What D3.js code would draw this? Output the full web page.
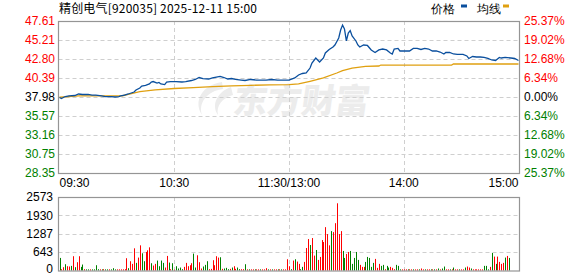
<!DOCTYPE html>
<html>
<head>
<meta charset="utf-8">
<script src="https://cdn.jsdelivr.net/npm/d3@7"></script>
<style>
  body { margin: 0; background: #fff; }
  svg text { font-family: "Liberation Sans", Arial, sans-serif; font-size: 12px; }
</style>
</head>
<body>
<svg id="chart" width="578" height="276"></svg>
<script>
// --- Chart data ---
const titleText = "精创电气[920035] 2025-12-11 15:00";
const preClose = 37.98;
const priceTicks = [47.61, 45.21, 42.80, 40.39, 37.98, 35.57, 33.16, 30.75, 28.35];
const pctTicks = ["25.37%", "19.02%", "12.68%", "6.34%", "0.00%", "6.34%", "12.68%", "19.02%", "25.37%"];
const volTicks = [2573, 1930, 1287, 643, 0];
const timeLabels = ["09:30", "10:30", "11:30/13:00", "14:00", "15:00"];
const timeLabelMin = [0, 60, 120, 180, 240];

// price trace: minute index -> price
const priceMin = [0,1,3,5,8,10,12,15,17,19,22,24,27,29,31,32,34,36,39,40,42,43,45,47,48,49,51,52,53,55,56,58,61,64,66,69,71,73,75,78,80,82,84,86,88,90,92,95,97,100,103,105,108,111,114,117,120,123,125,127,129,131,132,134,136,138,139,141,143,144,146,147,148,149,150,151,152,153,155,156,157,159,161,163,165,167,169,171,173,174,175,177,178,180,183,185,187,189,191,193,195,197,199,201,202,204,206,208,211,213,214,216,218,220,222,224,226,228,230,231,233,236,238,240];
const priceVal = [37.92,37.79,38.04,38.11,38.17,38.36,38.30,38.30,38.23,38.23,38.11,38.04,38.04,37.98,38.04,38.11,38.23,38.36,38.61,38.87,39.12,39.37,39.44,39.63,39.88,39.94,39.75,39.82,39.63,39.56,39.88,39.94,39.94,39.88,39.94,40.07,40.20,40.45,40.32,40.26,40.39,40.51,40.58,40.45,40.26,40.32,40.20,40.13,40.07,40.20,40.13,40.13,40.13,40.20,40.13,40.13,40.13,40.39,40.77,40.96,41.02,41.65,42.29,42.92,42.41,42.92,43.56,44.00,44.32,44.57,45.46,46.47,47.10,46.60,45.10,46.09,46.40,45.71,45.08,44.57,44.32,44.57,44.51,43.94,43.62,43.94,44.06,43.94,43.56,43.43,44.06,44.13,43.81,43.81,43.81,44.13,44.13,44.00,44.13,44.06,43.81,43.81,43.68,43.43,43.62,43.62,43.43,43.37,43.37,43.18,42.86,43.11,43.05,43.05,42.99,42.86,42.67,42.61,42.99,42.92,42.99,42.92,42.86,42.61];

// average line trace
const avgMin = [0,10,33,36,42,50,60,70,80,90,100,110,120,125,131,138,145,148,153,160,167,168,205,206,240];
const avgVal = [37.95,38.12,38.14,38.30,38.65,38.87,39.06,39.18,39.30,39.40,39.46,39.52,39.56,39.63,39.97,40.39,41.02,41.31,41.65,41.85,41.91,42.03,42.03,42.16,42.16];

// volume per minute (241 bars) and colour per bar (r = up, g = down)
const volumes = [
  440,46,116,220,150,140,162,500,116,290,
  500,127,209,46,40,40,40,40,40,185,
  46,40,40,46,40,40,40,40,81,40,
  40,40,40,40,46,430,81,325,232,777,
  267,452,881,603,325,649,707,811,255,174,
  232,348,150,348,267,104,510,278,46,255,
  30,150,70,104,46,127,267,150,185,255,
  591,104,533,290,70,140,197,325,46,58,
  360,185,500,452,464,58,70,93,46,58,
  104,150,58,104,46,46,46,220,40,40,
  40,40,40,40,40,40,40,40,81,40,
  40,40,40,40,40,40,40,40,40,394,
  150,46,348,394,313,232,46,127,301,788,
  1101,892,1136,521,718,371,475,1066,997,1518,
  1275,881,1379,1344,1657,2353,1275,1379,684,440,
  580,649,684,232,440,649,371,197,127,127,
  301,475,440,127,267,406,93,232,162,197,
  46,162,104,127,93,46,197,162,40,40,
  40,40,40,40,40,40,40,40,40,70,
  40,40,40,40,40,40,40,40,70,40,
  70,139,40,40,40,40,104,40,40,40,
  40,40,104,139,104,70,40,40,40,40,
  40,40,162,162,40,127,614,487,232,487,
  301,232,267,452,510,440,0,0,0,0,
  510
];
const volColors =
  "grrgrrgrgr" + "rggrggrggg" + "grgrggrggg" + "rrrrrrgrrr" +
  "grrggrrrgr" + "rggggrrgrg" + "rggggrrrrr" + "ggrrrgggrr" +
  "rrrrgrgggr" + "grrggrrgrg" + "rrgrrgrrrg" + "rgrrgrgrrr" +
  "rgrgrrggrr" + "rgrrgrrrrr" + "rrgrrrrrgg" + "rrgggggrrr" +
  "gggggrrrgg" + "rggrrrgggr" + "rrgrrgrrgr" + "rgrrgrgrgr" +
  "ggrrgrgrrg" + "rrgrrgrrrr" + "rrgggrgrgr" + "rrrgrggggg" + "g";

document.addEventListener('DOMContentLoaded', function() {

  const svg = d3.select("#chart");

  // --- layout ---
  const left = 58.5, right = 519.5;
  const top = 21, bottom = 173;          // price panel
  const vTop = 197, vBottom = 270.5;     // volume panel

  const red = "#ff0000", green = "#008000";
  const gridColor = "#cfcfcf", borderColor = "#959595";

  // --- scales ---
  const x = d3.scaleLinear().domain([0, 240]).range([59.5, 518.5]);
  const y = d3.scaleLinear().domain([28.35, 47.61]).range([bottom, top]);
  const yv = d3.scaleLinear().domain([0, 2573]).range([vBottom, vTop]);

  // --- watermark (behind everything) ---
  const wm = svg.append("g").attr("fill", "#ececec");
  wm.append("path")
    .attr("d", "M222,82 C202,85 193,101 202,115 C198,103 207,91 223,89 Z M231,87 C217,92 211,105 218,115 C216,106 222,98 233,95 Z");
  wm.append("text")
    .attr("x", 232).attr("y", 113)
    .attr("transform", "skewX(-8) translate(16,0)")
    .style("font-family", '"Noto Sans CJK SC", sans-serif')
    .style("font-size", "34px")
    .style("font-weight", "900")
    .text("东方财富");

  // --- grid lines ---
  const grid = svg.append("g")
    .attr("stroke", gridColor)
    .attr("stroke-dasharray", "4,3")
    .attr("stroke-width", 1);

  grid.selectAll(".hgrid")
    .data(priceTicks.slice(1, -1))
    .enter().append("line")
    .attr("x1", left).attr("x2", right)
    .attr("y1", d => Math.round(y(d)) + 0.5)
    .attr("y2", d => Math.round(y(d)) + 0.5);

  grid.selectAll(".vhgrid")
    .data(volTicks.slice(1, -1))
    .enter().append("line")
    .attr("x1", left).attr("x2", right)
    .attr("y1", d => Math.round(yv(d)) + 0.5)
    .attr("y2", d => Math.round(yv(d)) + 0.5);

  [60, 120, 180].forEach(m => {
    const gx = Math.round(x(m)) + 0.5;
    grid.append("line").attr("x1", gx).attr("x2", gx).attr("y1", top).attr("y2", bottom);
    grid.append("line").attr("x1", gx).attr("x2", gx).attr("y1", vTop).attr("y2", vBottom);
  });

  // --- volume bars ---
  svg.append("g").selectAll("rect")
    .data(volumes)
    .enter().append("rect")
    .attr("x", (d, i) => Math.round(x(i)))
    .attr("width", 1)
    .attr("y", d => yv(d))
    .attr("height", d => vBottom - yv(d))
    .attr("fill", (d, i) => volColors[i] === "r" ? red : green);

  // --- average line and price line ---
  const avgData = avgMin.map((m, i) => [m, avgVal[i]]);
  const priceData = priceMin.map((m, i) => [m, priceVal[i]]);
  const line = d3.line().x(d => x(d[0])).y(d => y(d[1]));

  svg.append("path")
    .datum(avgData)
    .attr("d", line)
    .attr("fill", "none")
    .attr("stroke", "#e0a010")
    .attr("stroke-width", 1.3);

  svg.append("path")
    .datum(priceData)
    .attr("d", line)
    .attr("fill", "none")
    .attr("stroke", "#0a4f9e")
    .attr("stroke-width", 1.3);

  // --- panel borders ---
  svg.append("rect")
    .attr("x", left).attr("y", top + 0.5)
    .attr("width", right - left).attr("height", bottom - top)
    .attr("fill", "none").attr("stroke", borderColor).attr("stroke-width", 1.2);
  svg.append("rect")
    .attr("x", left).attr("y", vTop + 0.5)
    .attr("width", right - left).attr("height", vBottom - vTop)
    .attr("fill", "none").attr("stroke", borderColor).attr("stroke-width", 1.2);

  // --- left price labels ---
  const labelColor = v => v > preClose + 1e-6 ? red : (v < preClose - 1e-6 ? green : "#000");
  svg.append("g").selectAll("text")
    .data(priceTicks)
    .enter().append("text")
    .attr("x", 55)
    .attr("y", d => y(d))
    .attr("dy", "0.36em")
    .attr("text-anchor", "end")
    .attr("fill", labelColor)
    .text(d => d.toFixed(2));

  // --- right percent labels ---
  svg.append("g").selectAll("text")
    .data(pctTicks)
    .enter().append("text")
    .attr("x", 524)
    .attr("y", (d, i) => y(priceTicks[i]))
    .attr("dy", "0.36em")
    .attr("fill", (d, i) => labelColor(priceTicks[i]))
    .text(d => d);

  // --- volume labels ---
  svg.append("g").selectAll("text")
    .data(volTicks)
    .enter().append("text")
    .attr("x", 53)
    .attr("y", d => Math.min(yv(d), 269))
    .attr("dy", "0.36em")
    .attr("text-anchor", "end")
    .attr("fill", "#000")
    .text(d => d);

  // --- time labels ---
  svg.append("g").selectAll("text")
    .data(timeLabels)
    .enter().append("text")
    .attr("x", (d, i) => i === 0 ? left + 1 : (i === timeLabels.length - 1 ? right - 1 : x(timeLabelMin[i])))
    .attr("y", 187)
    .attr("text-anchor", (d, i) => i === 0 ? "start" : (i === timeLabels.length - 1 ? "end" : "middle"))
    .attr("fill", "#000")
    .text(d => d);

  // --- title ---
  svg.append("text")
    .attr("x", 59).attr("y", 12.5)
    .attr("textLength", 198)
    .style("font-family", '"Noto Sans CJK SC", sans-serif')
    .style("font-size", "12px")
    .attr("fill", "#000")
    .text(titleText);

  // --- legend ---
  const legend = svg.append("g").style("font-family", '"Noto Sans CJK SC", sans-serif');
  legend.append("text").attr("x", 431).attr("y", 12.5).text("价格");
  legend.append("rect").attr("x", 461).attr("y", 4.5).attr("width", 6).attr("height", 3).attr("fill", "#0a4f9e");
  legend.append("text").attr("x", 477).attr("y", 12.5).text("均线");
  legend.append("rect").attr("x", 503).attr("y", 4.5).attr("width", 6).attr("height", 3).attr("fill", "#e0a010");

  console.log("chart drawn");
});
</script>
</body>
</html>
